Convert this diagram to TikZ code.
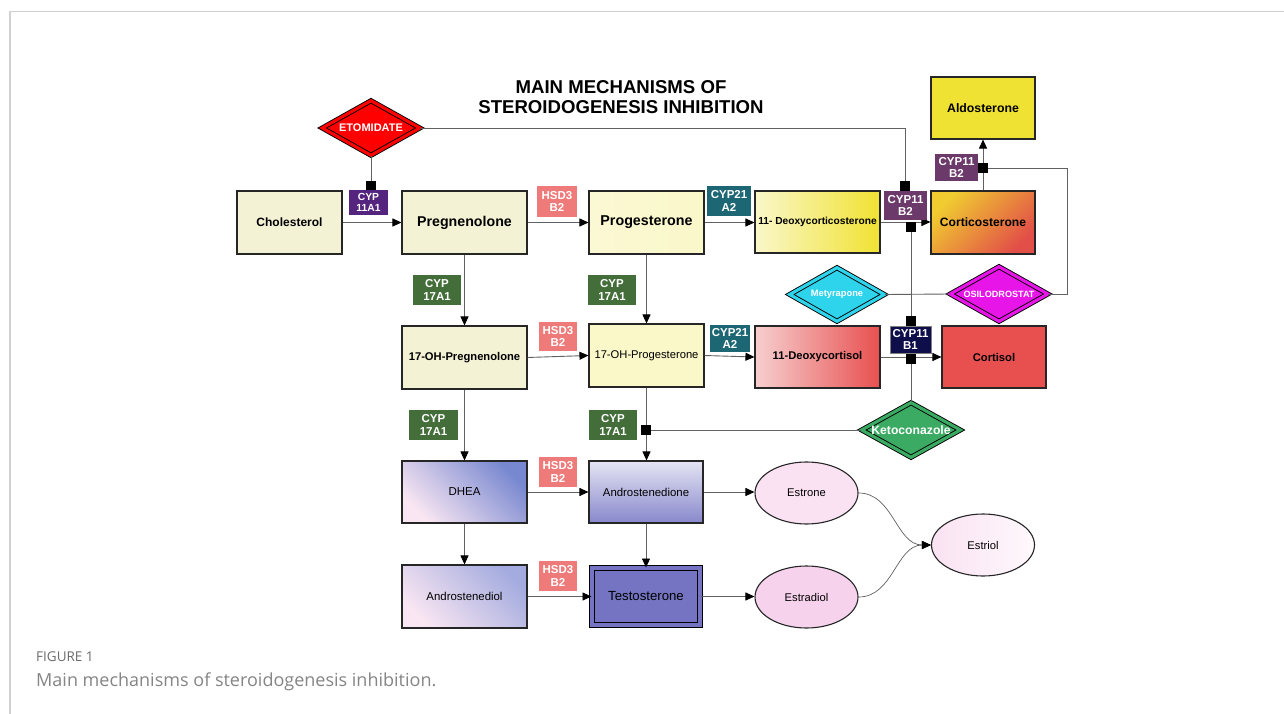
\documentclass[tikz,border=0pt]{standalone}
\usepackage{fontspec}
\setmainfont{Liberation Sans}
\newfontfamily\capfont{Open Sans}
\usetikzlibrary{shapes.geometric,arrows.meta}
\definecolor{cream}{HTML}{F4F2D4}
\definecolor{progy}{HTML}{FAF7C9}
\definecolor{yel}{HTML}{F0E232}
\definecolor{corta}{HTML}{F0CC30}
\definecolor{cortb}{HTML}{E24E48}
\definecolor{pinkl}{HTML}{F7CFCF}
\definecolor{redc}{HTML}{E85050}
\definecolor{etoc}{HTML}{FF0000}
\definecolor{metc}{HTML}{2ED3EC}
\definecolor{osic}{HTML}{E815E8}
\definecolor{ketc}{HTML}{3BAA62}
\definecolor{cypA}{HTML}{55247F}
\definecolor{hsd}{HTML}{EF7A7A}
\definecolor{cypT}{HTML}{1D6775}
\definecolor{cypBii}{HTML}{6B3A6B}
\definecolor{cypBi}{HTML}{0E0E4A}
\definecolor{cypS}{HTML}{436E3A}
\definecolor{testc}{HTML}{7474C2}
\definecolor{bluev}{HTML}{7888D0}
\definecolor{lav}{HTML}{A4ACDF}
\definecolor{pinkw}{HTML}{F9E6F2}
\definecolor{andt}{HTML}{E4E4F4}
\definecolor{andb}{HTML}{8888CC}
\definecolor{estr}{HTML}{FAE2F2}
\definecolor{estd}{HTML}{F6D2EC}
\definecolor{esti}{HTML}{FDEEF8}
\begin{document}
\begin{tikzpicture}[x=1pt,y=-1pt,
  box/.style={draw=black!85, line width=1.1pt, inner sep=1pt, align=center, text=black},
  enz/.style={fill=#1, text=white, font=\bfseries\fontsize{11.5}{12.5}\selectfont, inner sep=0pt, align=center},
  drug/.style={diamond, draw=black, line width=0.9pt, double=#1, double distance=3.2pt, fill=#1, text=white, inner sep=0pt, aspect=1.8},
  conn/.style={draw=black!62, line width=0.9pt},
  arr/.style={conn, -{Triangle[length=9pt,width=8pt,color=black]}},
  sq/.style={fill=black, minimum size=10pt, inner sep=0pt},
  oval/.style={ellipse, draw=black!85, line width=1.1pt, minimum width=103pt, minimum height=62pt, inner sep=0pt, font=\fontsize{11.2}{13}\selectfont}]
\useasboundingbox (0,0) rectangle (1284,714);
\fill[white] (0,0) rectangle (1284,714);
\draw[black!18, line width=1.5pt] (10,714) -- (10,11.5) -- (1284,11.5);

% title
\node[font=\bfseries\fontsize{18.6}{20}\selectfont, align=center] (title) at (621,97.5) {MAIN MECHANISMS OF\\STEROIDOGENESIS INHIBITION};

% boxes
\node[box, fill=cream, minimum width=105pt, minimum height=63pt, font=\bfseries\fontsize{12}{14}\selectfont] (chol) at (289.5,222.5) {Cholesterol};
\node[box, fill=cream, minimum width=125pt, minimum height=63pt, font=\bfseries\fontsize{14.2}{16}\selectfont] (preg) at (464.5,222.5) {Pregnenolone};
\node[box, left color=progy!80!white, right color=progy, minimum width=115pt, minimum height=63pt, font=\bfseries\fontsize{14.3}{16}\selectfont] (prog) at (646.5,222.5) {Progesterone};
\node[box, left color=progy, right color=yel, minimum width=125pt, minimum height=62pt, font=\bfseries\fontsize{10.2}{12}\selectfont] (doc) at (817.5,222) {11- Deoxycorticosterone};
\node[box, top color=corta, bottom color=cortb, shading angle=45, minimum width=104pt, minimum height=63pt, font=\bfseries\fontsize{12.1}{14}\selectfont] (cortico) at (983,222.5) {Corticosterone};
\node[box, fill=yel, minimum width=104pt, minimum height=62pt, font=\bfseries\fontsize{12.3}{14}\selectfont] (aldo) at (983,108) {Aldosterone};
\node[box, fill=cream, minimum width=125pt, minimum height=63pt, font=\bfseries\fontsize{11.2}{13}\selectfont] (ohpreg) at (464.5,357.5) {17-OH-Pregnenolone};
\node[box, fill=progy, minimum width=115pt, minimum height=63pt, font=\fontsize{11.2}{13}\selectfont] (ohprog) at (646.5,355.5) {17-OH-Progesterone};
\node[box, left color=pinkl, right color=redc, minimum width=125pt, minimum height=62pt, font=\bfseries\fontsize{11.2}{13}\selectfont] (dcol) at (817.5,357) {11-Deoxycortisol};
\node[box, fill=redc, minimum width=104pt, minimum height=62pt, font=\bfseries\fontsize{11.2}{13}\selectfont] (cortisol) at (994,357) {Cortisol};
\node[box, top color=bluev, bottom color=pinkw, shading angle=-45, minimum width=125pt, minimum height=62pt, font=\fontsize{11.5}{13}\selectfont] (dhea) at (464.5,492) {DHEA};
\node[box, top color=andt, bottom color=andb, minimum width=114pt, minimum height=62pt, font=\fontsize{11.4}{13}\selectfont] (andro) at (646,492) {Androstenedione};
\node[box, top color=lav, bottom color=pinkw, shading angle=-45, minimum width=125pt, minimum height=63pt, font=\fontsize{11.4}{13}\selectfont] (androdiol) at (464.5,596.5) {Androstenediol};
\node[box, draw=black, line width=1pt, fill=testc, double=testc, double distance=4pt, minimum width=108pt, minimum height=57pt, font=\fontsize{13.2}{15}\selectfont] (testo) at (646,596.5) {Testosterone};
\node[oval, fill=estr] (estrone) at (806.5,493) {Estrone};
\node[oval, fill=estd] (estradiol) at (806.5,597) {Estradiol};
\node[oval, left color=estr, right color=esti!40!white] (estriol) at (983,545) {Estriol};

% drugs
\node[drug=etoc, minimum width=98pt, minimum height=55pt, font=\bfseries\fontsize{11}{13}\selectfont] (eto) at (371,128) {ETOMIDATE};
\node[drug=metc, minimum width=95pt, minimum height=54pt, font=\bfseries\fontsize{9.3}{11}\selectfont] (mety) at (837,294.5) {Metyrapone};
\node[drug=osic, minimum width=98pt, minimum height=55pt, font=\bfseries\fontsize{9.1}{11}\selectfont] (osilo) at (999,294) {OSILODROSTAT};
\node[drug=ketc, minimum width=99pt, minimum height=55pt, font=\bfseries\fontsize{12.2}{14}\selectfont] (keto) at (911,430) {Ketoconazole};

% conversion arrows
\draw[arr] (chol.east) -- (preg.west);
\draw[arr] (preg.east) -- (prog.west);
\draw[arr] (prog.east) -- (prog.east -| doc.west);
\draw[arr] (doc.east) -- (doc.east -| cortico.west);
\draw[arr] (cortico.north) -- (aldo.south);
\draw[arr] (preg.south) -- (ohpreg.north);
\draw[arr] (prog.south) -- (ohprog.north);
\draw[arr] (ohpreg.east) -- (ohprog.west);
\draw[arr] (ohprog.east) -- (dcol.west);
\draw[arr] (dcol.east) -- (cortisol.west);
\draw[arr] (ohpreg.south) -- (dhea.north);
\draw[arr] (ohprog.south) -- (ohprog.south |- andro.north);
\draw[arr] (dhea.east) -- (andro.west);
\draw[arr] (dhea.south) -- (androdiol.north);
\draw[arr] (andro.south) -- (andro.south |- testo.north);
\draw[arr] (androdiol.east) -- (testo.west);
\draw[arr] (andro.east) -- (andro.east -| estrone.west);
\draw[arr] (testo.east) -- (testo.east -| estradiol.west);
\draw[arr, line width=0.7pt] (estrone.east) to[out=0,in=180] (estriol.west);
\draw[arr, line width=0.7pt] (estradiol.east) to[out=0,in=180] (estriol.west);

% inhibition squares
\node[sq] (sqA) at (371,186) {};
\node[sq] (sqB) at (905,186) {};
\node[sq] (sqC) at (911,227) {};
\node[sq] (sqD) at (911,321) {};
\node[sq] (sqE) at (911,359) {};
\node[sq] (sqF) at (983,168) {};
\node[sq] (sqG) at (646,430) {};
\coordinate (cornerF) at (1067,168);

% inhibition lines
\draw[conn] (eto.south) -- (sqA.north);
\draw[conn] (eto.east) -| (sqB.north);
\draw[conn] (sqC.south) -- (sqD.north);
\draw[conn] (mety.east) -- (osilo.west);
\draw[conn] (sqE.south) -- (keto.north);
\draw[conn] (osilo.east) -| (cornerF) -- (sqF.east);
\draw[conn] (keto.west) -- (sqG.east);

% enzymes
\node[enz=cypA, minimum width=39pt, minimum height=25pt, font=\bfseries\fontsize{10.3}{11.5}\selectfont] (e1) at (368.5,202.5) {CYP\\11A1};
\node[enz=hsd, minimum width=40pt, minimum height=31pt] (e2) at (557,201.5) {HSD3\\B2};
\node[enz=cypT, minimum width=44pt, minimum height=30pt] (e3) at (729,201) {CYP21\\A2};
\node[enz=cypBii, minimum width=43pt, minimum height=29pt] (e4) at (905.5,205.5) {CYP11\\B2};
\node[enz=cypBii, minimum width=43pt, minimum height=27pt] (e5) at (956.5,167.5) {CYP11\\B2};
\node[enz=cypS, minimum width=48pt, minimum height=30pt] (e6) at (437,290) {CYP\\17A1};
\node[enz=cypS, minimum width=48pt, minimum height=30pt] (e7) at (612,290) {CYP\\17A1};
\node[enz=cypS, minimum width=49pt, minimum height=30pt] (e8) at (433.5,425) {CYP\\17A1};
\node[enz=cypS, minimum width=48pt, minimum height=30pt] (e9) at (613,425) {CYP\\17A1};
\node[enz=hsd, minimum width=38pt, minimum height=29pt] (e10) at (558,336.5) {HSD3\\B2};
\node[enz=cypT, minimum width=40pt, minimum height=27pt] (e11) at (730,338.5) {CYP21\\A2};
\node[enz=cypBi, draw=black!50, minimum width=41pt, minimum height=27pt] (e12) at (910.5,339.5) {CYP11\\B1};
\node[enz=hsd, minimum width=38pt, minimum height=30pt] (e13) at (558,472) {HSD3\\B2};
\node[enz=hsd, minimum width=38pt, minimum height=30pt] (e14) at (558,576) {HSD3\\B2};

% caption
\node[anchor=base west, inner sep=0pt, text=black!58, font=\capfont\fontsize{13.5}{15}\selectfont] (fig) at (36,661) {FIGURE 1};
\node[anchor=base west, inner sep=0pt, text=black!48, font=\capfont\fontsize{18}{20}\selectfont] (cap) at (36,686) {Main mechanisms of steroidogenesis inhibition.};
\end{tikzpicture}
\end{document}
